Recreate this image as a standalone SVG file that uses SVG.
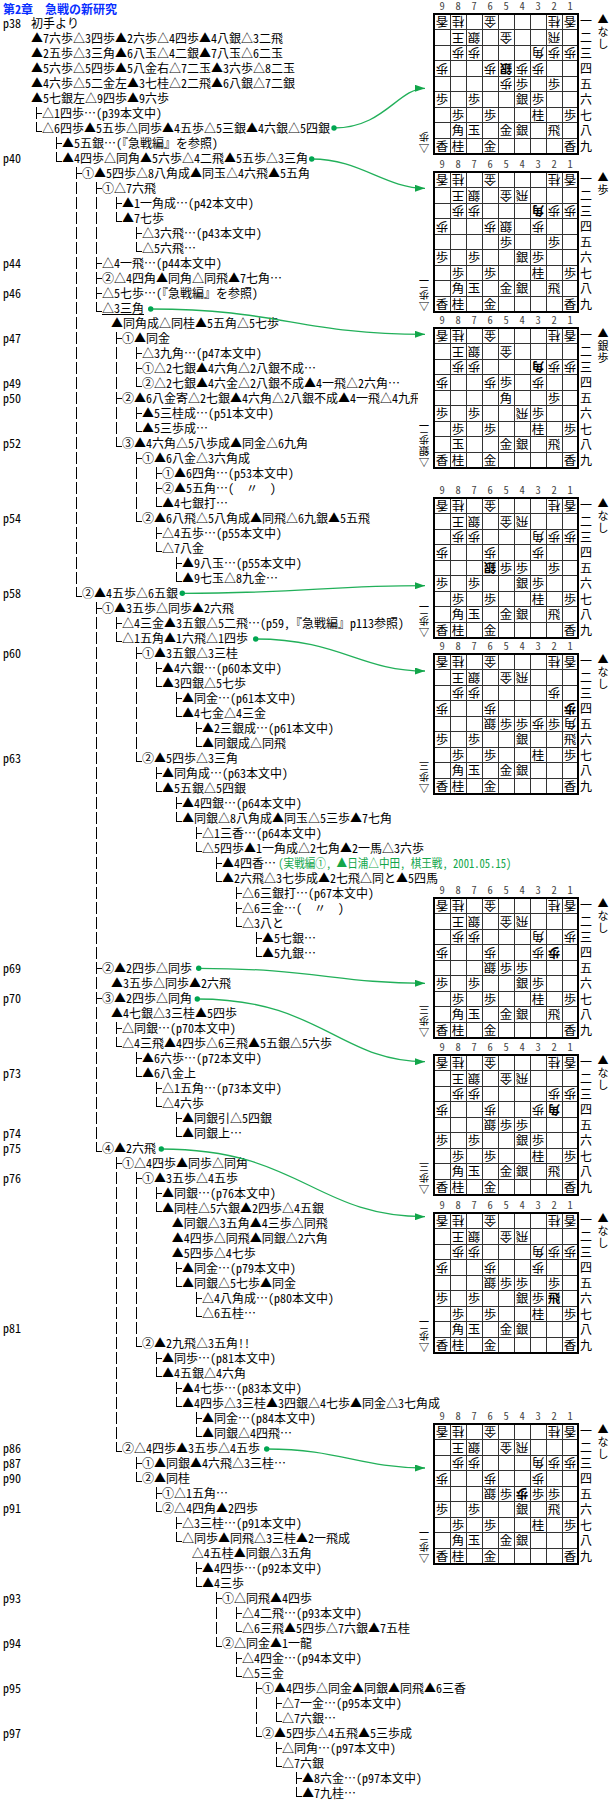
<svg xmlns="http://www.w3.org/2000/svg" width="612" height="1801" viewBox="0 0 612 1801">
<defs>
<style>
text{font-family:'Noto Sans Mono CJK JP','Noto Sans CJK JP','Noto Sans CJK SC',sans-serif;font-size:12px;fill:#000}
.ttl{fill:#0a30ff;font-weight:bold}
.grn{fill:#12a64a}
.cn{font-size:10.5px;text-anchor:middle;fill:#444}
.rk{text-anchor:middle}
.k,.g{font-size:12.5px;text-anchor:middle}
.b{font-weight:bold}
.bh{font-size:11px;text-anchor:middle}
.gh{font-size:10.5px;text-anchor:middle}
.tr{fill:none;stroke:#000;stroke-width:1;shape-rendering:crispEdges}
.dash{stroke-dasharray:12 3}
.gl{fill:none;stroke:#333;stroke-width:1;shape-rendering:crispEdges}
.fr{fill:none;stroke:#000;stroke-width:2}
.ar{fill:none;stroke:#22b05a;stroke-width:1.3;marker-end:url(#ah)}
.dot{fill:#00a651}
.ul{stroke:#000;stroke-width:1}
</style>
<marker id="ah" viewBox="0 0 10 7" refX="10" refY="3.5" markerWidth="10" markerHeight="7" markerUnits="userSpaceOnUse" orient="auto"><path d="M0,0L10,3.5L0,7z" fill="#12a64a"/></marker>
<g id="grid"><path class="gl" d="M450.5,0V140M466.5,0V140M482.5,0V140M498.5,0V140M514.5,0V140M530.5,0V140M546.5,0V140M562.5,0V140M434,15.5H578M434,31.5H578M434,46.5H578M434,62.5H578M434,77.5H578M434,93.5H578M434,108.5H578M434,124.5H578"/><rect class="fr" x="434" y="0" width="144" height="140"/></g>
</defs>
<rect width="612" height="1801" fill="#fff"/>
<text class="ttl" x="3" y="13.8">第2章　急戦の新研究</text>
<g id="pages">
<text x="3" y="28.4">p38</text><text x="3" y="163.4">p40</text><text x="3" y="268.4">p44</text><text x="3" y="298.4">p46</text><text x="3" y="343.4">p47</text><text x="3" y="388.4">p49</text><text x="3" y="403.4">p50</text><text x="3" y="448.4">p52</text><text x="3" y="523.4">p54</text><text x="3" y="598.4">p58</text><text x="3" y="658.4">p60</text><text x="3" y="763.4">p63</text><text x="3" y="973.4">p69</text><text x="3" y="1003.4">p70</text><text x="3" y="1078.4">p73</text><text x="3" y="1138.4">p74</text><text x="3" y="1153.4">p75</text><text x="3" y="1183.4">p76</text><text x="3" y="1333.4">p81</text><text x="3" y="1453.4">p86</text><text x="3" y="1468.4">p87</text><text x="3" y="1483.4">p90</text><text x="3" y="1513.4">p91</text><text x="3" y="1603.4">p93</text><text x="3" y="1648.4">p94</text><text x="3" y="1693.4">p95</text><text x="3" y="1738.4">p97</text>
</g>
<g id="moves">
<g id="l0"><text x="31" y="28.4">初手より</text></g>
<g id="l1"><text x="31" y="43.4">▲7六歩△3四歩▲2六歩△4四歩▲4八銀△3二飛</text></g>
<g id="l2"><text x="31" y="58.4">▲2五歩△3三角▲6八玉△4二銀▲7八玉△6二玉</text></g>
<g id="l3"><text x="31" y="73.4">▲5六歩△5四歩▲5八金右△7二玉▲3六歩△8二玉</text></g>
<g id="l4"><text x="31" y="88.4">▲4六歩△5二金左▲3七桂△2二飛▲6八銀△7二銀</text></g>
<g id="l5"><text x="31" y="103.4">▲5七銀左△9四歩▲9六歩</text></g>
<g id="l6"><text x="42" y="118.4">△1四歩…(p39本文中)</text></g>
<g id="l7"><text x="42" y="133.4" textLength="288" lengthAdjust="spacingAndGlyphs">△6四歩▲5五歩△同歩▲4五歩△5三銀▲4六銀△5四銀</text></g>
<g id="l8"><text x="62" y="148.4">▲5五銀…(『急戦編』を参照)</text></g>
<g id="l9"><text x="62" y="163.4" textLength="246" lengthAdjust="spacingAndGlyphs">▲4四歩△同角▲5六歩△4二飛▲5五歩△3三角</text></g>
<g id="l10"><text x="82" y="178.4">①▲5四歩△8八角成▲同玉△4六飛▲5五角</text></g>
<g id="l11"><text x="102" y="193.4">①△7六飛</text></g>
<g id="l12"><text x="122" y="208.4">▲1一角成…(p42本文中)</text></g>
<g id="l13"><text x="122" y="223.4">▲7七歩</text></g>
<g id="l14"><text x="142" y="238.4">△3六飛…(p43本文中)</text></g>
<g id="l15"><text x="142" y="253.4">△5六飛…</text></g>
<g id="l16"><text x="102" y="268.4">△4一飛…(p44本文中)</text></g>
<g id="l17"><text x="102" y="283.4">②△4四角▲同角△同飛▲7七角…</text></g>
<g id="l18"><text x="102" y="298.4">△5七歩…(『急戦編』を参照)</text></g>
<g id="l19"><text x="102" y="313.4" textLength="42" lengthAdjust="spacingAndGlyphs">△3三角</text><path class="ul" d="M102,314.5H144"/></g>
<g id="l20"><text x="111" y="328.4">▲同角成△同桂▲5五角△5七歩</text></g>
<g id="l21"><text x="122" y="343.4">①▲同金</text></g>
<g id="l22"><text x="142" y="358.4">△3九角…(p47本文中)</text></g>
<g id="l23"><text x="142" y="373.4">①△2七銀▲4六角△2八銀不成…</text></g>
<g id="l24"><text x="142" y="388.4">②△2七銀▲4六金△2八銀不成▲4一飛△2六角…</text></g>
<g id="l25"><text x="122" y="403.4">②▲6八金寄△2七銀▲4六角△2八銀不成▲4一飛△4九飛</text></g>
<g id="l26"><text x="142" y="418.4">▲5三桂成…(p51本文中)</text></g>
<g id="l27"><text x="142" y="433.4">▲5三歩成…</text></g>
<g id="l28"><text x="122" y="448.4">③▲4六角△5八歩成▲同金△6九角</text></g>
<g id="l29"><text x="142" y="463.4">①▲6八金△3六角成</text></g>
<g id="l30"><text x="162" y="478.4">①▲6四角…(p53本文中)</text></g>
<g id="l31"><text x="162" y="493.4">②▲5五角…(　〃　)</text></g>
<g id="l32"><text x="162" y="508.4">▲4七銀打…</text></g>
<g id="l33"><text x="142" y="523.4">②▲6八飛△5八角成▲同飛△6九銀▲5五飛</text></g>
<g id="l34"><text x="162" y="538.4">△4五歩…(p55本文中)</text></g>
<g id="l35"><text x="162" y="553.4">△7八金</text></g>
<g id="l36"><text x="182" y="568.4">▲9八玉…(p55本文中)</text></g>
<g id="l37"><text x="182" y="583.4">▲9七玉△8九金…</text></g>
<g id="l38"><text x="82" y="598.4" textLength="96" lengthAdjust="spacingAndGlyphs">②▲4五歩△6五銀</text></g>
<g id="l39"><text x="102" y="613.4">①▲3五歩△同歩▲2六飛</text></g>
<g id="l40"><text x="122" y="628.4">△4三金▲3五銀△5二飛…(p59,『急戦編』p113参照)</text></g>
<g id="l41"><text x="122" y="643.4" textLength="126" lengthAdjust="spacingAndGlyphs">△1五角▲1六飛△1四歩</text></g>
<g id="l42"><text x="142" y="658.4">①▲3五銀△3三桂</text></g>
<g id="l43"><text x="162" y="673.4">▲4六銀…(p60本文中)</text></g>
<g id="l44"><text x="162" y="688.4">▲3四銀△5七歩</text></g>
<g id="l45"><text x="182" y="703.4">▲同金…(p61本文中)</text></g>
<g id="l46"><text x="182" y="718.4">▲4七金△4三金</text></g>
<g id="l47"><text x="202" y="733.4">▲2三銀成…(p61本文中)</text></g>
<g id="l48"><text x="202" y="748.4">▲同銀成△同飛</text></g>
<g id="l49"><text x="142" y="763.4">②▲5四歩△3三角</text></g>
<g id="l50"><text x="162" y="778.4">▲同角成…(p63本文中)</text></g>
<g id="l51"><text x="162" y="793.4">▲5五銀△5四銀</text></g>
<g id="l52"><text x="182" y="808.4">▲4四銀…(p64本文中)</text></g>
<g id="l53"><text x="182" y="823.4">▲同銀△8八角成▲同玉△5三歩▲7七角</text></g>
<g id="l54"><text x="202" y="838.4">△1三香…(p64本文中)</text></g>
<g id="l55"><text x="202" y="853.4">△5四歩▲1一角成△2七角▲2一馬△3六歩</text></g>
<g id="l56"><text x="222" y="868.4">▲4四香…</text><text class="grn" x="278.3" y="868.4" textLength="233" lengthAdjust="spacingAndGlyphs">(実戦編①, ▲日浦△中田, 棋王戦, 2001.05.15)</text></g>
<g id="l57"><text x="222" y="883.4">▲2六飛△3七歩成▲2七飛△同と▲5四馬</text></g>
<g id="l58"><text x="242" y="898.4">△6三銀打…(p67本文中)</text></g>
<g id="l59"><text x="242" y="913.4">△6三金…(　〃　)</text></g>
<g id="l60"><text x="242" y="928.4">△3八と</text></g>
<g id="l61"><text x="262" y="943.4">▲5七銀…</text></g>
<g id="l62"><text x="262" y="958.4">▲5九銀…</text></g>
<g id="l63"><text x="102" y="973.4" textLength="90" lengthAdjust="spacingAndGlyphs">②▲2四歩△同歩</text></g>
<g id="l64"><text x="111" y="988.4">▲3五歩△同歩▲2六飛</text></g>
<g id="l65"><text x="102" y="1003.4" textLength="90" lengthAdjust="spacingAndGlyphs">③▲2四歩△同角</text></g>
<g id="l66"><text x="111" y="1018.4">▲4七銀△3三桂▲5四歩</text></g>
<g id="l67"><text x="122" y="1033.4">△同銀…(p70本文中)</text></g>
<g id="l68"><text x="122" y="1048.4">△4三飛▲4四歩△6三飛▲5五銀△5六歩</text></g>
<g id="l69"><text x="142" y="1063.4">▲6六歩…(p72本文中)</text></g>
<g id="l70"><text x="142" y="1078.4">▲6八金上</text></g>
<g id="l71"><text x="162" y="1093.4">△1五角…(p73本文中)</text></g>
<g id="l72"><text x="162" y="1108.4">△4六歩</text></g>
<g id="l73"><text x="182" y="1123.4">▲同銀引△5四銀</text></g>
<g id="l74"><text x="182" y="1138.4">▲同銀上…</text></g>
<g id="l75"><text x="102" y="1153.4" textLength="54" lengthAdjust="spacingAndGlyphs">④▲2六飛</text></g>
<g id="l76"><text x="122" y="1168.4">①△4四歩▲同歩△同角</text></g>
<g id="l77"><text x="142" y="1183.4">①▲3五歩△4五歩</text></g>
<g id="l78"><text x="162" y="1198.4">▲同銀…(p76本文中)</text></g>
<g id="l79"><text x="162" y="1213.4">▲同桂△5六銀▲2四歩△4五銀</text></g>
<g id="l80"><text x="171.7" y="1228.4">▲同銀△3五角▲4三歩△同飛</text></g>
<g id="l81"><text x="171.7" y="1243.4">▲4四歩△同飛▲同銀△2六角</text></g>
<g id="l82"><text x="171.7" y="1258.4">▲5四歩△4七歩</text></g>
<g id="l83"><text x="182" y="1273.4">▲同金…(p79本文中)</text></g>
<g id="l84"><text x="182" y="1288.4">▲同銀△5七歩▲同金</text></g>
<g id="l85"><text x="202" y="1303.4">△4八角成…(p80本文中)</text></g>
<g id="l86"><text x="202" y="1318.4">△6五桂…</text></g>
<g id="l88"><text x="142" y="1348.4">②▲2九飛△3五角!!</text></g>
<g id="l89"><text x="162" y="1363.4">▲同歩…(p81本文中)</text></g>
<g id="l90"><text x="162" y="1378.4">▲4五銀△4六角</text></g>
<g id="l91"><text x="182" y="1393.4">▲4七歩…(p83本文中)</text></g>
<g id="l92"><text x="182" y="1408.4">▲4四歩△3三桂▲3四銀△4七歩▲同金△3七角成</text></g>
<g id="l93"><text x="202" y="1423.4">▲同金…(p84本文中)</text></g>
<g id="l94"><text x="202" y="1438.4">▲同銀△4四飛…</text></g>
<g id="l95"><text x="122" y="1453.4" textLength="138" lengthAdjust="spacingAndGlyphs">②△4四歩▲3五歩△4五歩</text></g>
<g id="l96"><text x="142" y="1468.4">①▲同銀▲4六飛△3三桂…</text></g>
<g id="l97"><text x="142" y="1483.4">②▲同桂</text></g>
<g id="l98"><text x="162" y="1498.4">①△1五角…</text></g>
<g id="l99"><text x="162" y="1513.4">②△4四角▲2四歩</text></g>
<g id="l100"><text x="182" y="1528.4">△3三桂…(p91本文中)</text></g>
<g id="l101"><text x="182" y="1543.4">△同歩▲同飛△3三桂▲2一飛成</text></g>
<g id="l102"><text x="191.7" y="1558.4">△4五桂▲同銀△3五角</text></g>
<g id="l103"><text x="202" y="1573.4">▲4四歩…(p92本文中)</text></g>
<g id="l104"><text x="202" y="1588.4">▲4三歩</text></g>
<g id="l105"><text x="222" y="1603.4">①△同飛▲4四歩</text></g>
<g id="l106"><text x="242" y="1618.4">△4二飛…(p93本文中)</text></g>
<g id="l107"><text x="242" y="1633.4">△6三飛▲5四歩△7六銀▲7五桂</text></g>
<g id="l108"><text x="222" y="1648.4">②△同金▲1一龍</text></g>
<g id="l109"><text x="242" y="1663.4">△4四金…(p94本文中)</text></g>
<g id="l110"><text x="242" y="1678.4">△5三金</text></g>
<g id="l111"><text x="262" y="1693.4">①▲4四歩△同金▲同銀▲同飛▲6三香</text></g>
<g id="l112"><text x="282" y="1708.4">△7一金…(p95本文中)</text></g>
<g id="l113"><text x="282" y="1723.4">△7六銀…</text></g>
<g id="l114"><text x="262" y="1738.4">②▲5四歩△4五飛▲5三歩成</text></g>
<g id="l115"><text x="282" y="1753.4">△同角…(p97本文中)</text></g>
<g id="l116"><text x="282" y="1768.4">△7六銀</text></g>
<g id="l117"><text x="302" y="1783.4">▲8六金…(p97本文中)</text></g>
<g id="l118"><text x="302" y="1798.4">▲7九桂…</text></g>
</g>
<g id="tree">
<path class="tr dash" d="M36.5,107V131.5M56.5,137V161.5M76.5,167V596.5M96.5,182V311.5M116.5,197V221.5M136.5,227V251.5M116.5,332V446.5M136.5,347V386.5M136.5,407V431.5M136.5,452V521.5M156.5,467V506.5M156.5,527V551.5M176.5,557V581.5M96.5,602V1151.5M116.5,617V641.5M136.5,647V761.5M156.5,662V686.5M176.5,692V716.5M196.5,722V746.5M156.5,767V791.5M176.5,797V821.5M196.5,827V851.5M216.5,857V881.5M236.5,887V926.5M256.5,932V956.5M116.5,1022V1046.5M136.5,1052V1076.5M156.5,1082V1106.5M176.5,1112V1136.5M116.5,1157V1451.5M136.5,1172V1346.5M156.5,1187V1211.5M176.5,1262V1286.5M196.5,1292V1316.5M156.5,1352V1376.5M176.5,1382V1406.5M196.5,1412V1436.5M136.5,1457V1481.5M156.5,1487V1511.5M176.5,1517V1541.5M196.5,1562V1586.5M216.5,1592V1646.5M236.5,1607V1631.5M236.5,1652V1676.5M256.5,1682V1736.5M276.5,1697V1721.5M276.5,1742V1766.5M296.5,1772V1796.5"/>
<path class="tr" d="M36.5,113.5h5.5M56.5,143.5h5.5M76.5,173.5h5.5M96.5,188.5h5.5M116.5,203.5h5.5M136.5,233.5h5.5M96.5,263.5h5.5M96.5,278.5h5.5M96.5,293.5h5.5M116.5,338.5h5.5M136.5,353.5h5.5M136.5,368.5h5.5M116.5,398.5h5.5M136.5,413.5h5.5M136.5,458.5h5.5M156.5,473.5h5.5M156.5,488.5h5.5M156.5,533.5h5.5M176.5,563.5h5.5M96.5,608.5h5.5M116.5,623.5h5.5M136.5,653.5h5.5M156.5,668.5h5.5M176.5,698.5h5.5M196.5,728.5h5.5M156.5,773.5h5.5M176.5,803.5h5.5M196.5,833.5h5.5M216.5,863.5h5.5M236.5,893.5h5.5M236.5,908.5h5.5M256.5,938.5h5.5M96.5,968.5h5.5M96.5,998.5h5.5M116.5,1028.5h5.5M136.5,1058.5h5.5M156.5,1088.5h5.5M176.5,1118.5h5.5M116.5,1163.5h5.5M136.5,1178.5h5.5M156.5,1193.5h5.5M176.5,1268.5h5.5M196.5,1298.5h5.5M156.5,1358.5h5.5M176.5,1388.5h5.5M196.5,1418.5h5.5M136.5,1463.5h5.5M156.5,1493.5h5.5M176.5,1523.5h5.5M196.5,1568.5h5.5M216.5,1598.5h5.5M236.5,1613.5h5.5M236.5,1658.5h5.5M256.5,1688.5h5.5M276.5,1703.5h5.5M276.5,1748.5h5.5M296.5,1778.5h5.5
M36.5,131.5h5.5M56.5,161.5h5.5M116.5,221.5h5.5M136.5,251.5h5.5M96.5,311.5h5.5M136.5,386.5h5.5M136.5,431.5h5.5M116.5,446.5h5.5M156.5,506.5h5.5M136.5,521.5h5.5M156.5,551.5h5.5M176.5,581.5h5.5M76.5,596.5h5.5M116.5,641.5h5.5M156.5,686.5h5.5M176.5,716.5h5.5M196.5,746.5h5.5M136.5,761.5h5.5M156.5,791.5h5.5M176.5,821.5h5.5M196.5,851.5h5.5M216.5,881.5h5.5M236.5,926.5h5.5M256.5,956.5h5.5M116.5,1046.5h5.5M136.5,1076.5h5.5M156.5,1106.5h5.5M176.5,1136.5h5.5M96.5,1151.5h5.5M156.5,1211.5h5.5M176.5,1286.5h5.5M196.5,1316.5h5.5M136.5,1346.5h5.5M156.5,1376.5h5.5M176.5,1406.5h5.5M196.5,1436.5h5.5M116.5,1451.5h5.5M136.5,1481.5h5.5M156.5,1511.5h5.5M176.5,1541.5h5.5M196.5,1586.5h5.5M236.5,1631.5h5.5M216.5,1646.5h5.5M236.5,1676.5h5.5M276.5,1721.5h5.5M256.5,1736.5h5.5M276.5,1766.5h5.5M296.5,1796.5h5.5"/>
</g>
<g id="board1" transform="translate(0,14)">
<use href="#grid"/>
<text class="cn" x="442 458 474 490 506 522 538 554 570" y="-4">987654321</text>
<text class="rk" x="586 586 586 586 586 586 586 586 586" y="12.4 27.9 43.5 59 74.6 90.2 105.7 121.3 136.8">一二三四五六七八九</text>
<text class="g" transform="translate(442,7.8)rotate(180)" y="4.6">香</text><text class="g" transform="translate(458,7.8)rotate(180)" y="4.6">桂</text><text class="g" transform="translate(490,7.8)rotate(180)" y="4.6">金</text><text class="g" transform="translate(554,7.8)rotate(180)" y="4.6">桂</text><text class="g" transform="translate(570,7.8)rotate(180)" y="4.6">香</text>
<text class="g" transform="translate(458,23.3)rotate(180)" y="4.6">王</text><text class="g" transform="translate(474,23.3)rotate(180)" y="4.6">銀</text><text class="g" transform="translate(506,23.3)rotate(180)" y="4.6">金</text><text class="g" transform="translate(554,23.3)rotate(180)" y="4.6">飛</text>
<text class="g" transform="translate(458,38.9)rotate(180)" y="4.6">歩</text><text class="g" transform="translate(474,38.9)rotate(180)" y="4.6">歩</text><text class="g" transform="translate(538,38.9)rotate(180)" y="4.6">角</text><text class="g" transform="translate(554,38.9)rotate(180)" y="4.6">歩</text><text class="g" transform="translate(570,38.9)rotate(180)" y="4.6">歩</text>
<text class="g" transform="translate(442,54.4)rotate(180)" y="4.6">歩</text><text class="g" transform="translate(490,54.4)rotate(180)" y="4.6">歩</text><text class="g b" transform="translate(506,54.4)rotate(180)" y="4.6">銀</text><text class="g" transform="translate(522,54.4)rotate(180)" y="4.6">歩</text><text class="g" transform="translate(538,54.4)rotate(180)" y="4.6">歩</text>
<text class="g" transform="translate(506,70)rotate(180)" y="4.6">歩</text>
<text class="k" x="522" y="74.6">歩</text><text class="k" x="554" y="74.6">歩</text>
<text class="k" x="442" y="90.2">歩</text><text class="k" x="474" y="90.2">歩</text><text class="k" x="522" y="90.2">銀</text><text class="k" x="538" y="90.2">歩</text>
<text class="k" x="458" y="105.7">歩</text><text class="k" x="490" y="105.7">歩</text><text class="k" x="538" y="105.7">桂</text><text class="k" x="570" y="105.7">歩</text>
<text class="k" x="458" y="121.3">角</text><text class="k" x="474" y="121.3">玉</text><text class="k" x="506" y="121.3">金</text><text class="k" x="522" y="121.3">銀</text><text class="k" x="554" y="121.3">飛</text>
<text class="k" x="442" y="136.8">香</text><text class="k" x="458" y="136.8">桂</text><text class="k" x="490" y="136.8">金</text><text class="k" x="570" y="136.8">香</text>
<text class="bh" x="603 603 603" y="9.2 22.2 34.2">▲なし</text>
<text class="gh" transform="translate(424,134)rotate(180)" y="4">△</text><text class="gh" transform="translate(424,123)rotate(180)" y="4">歩</text>
</g>
<g id="board2" transform="translate(0,172)">
<use href="#grid"/>
<text class="cn" x="442 458 474 490 506 522 538 554 570" y="-4">987654321</text>
<text class="rk" x="586 586 586 586 586 586 586 586 586" y="12.4 27.9 43.5 59 74.6 90.2 105.7 121.3 136.8">一二三四五六七八九</text>
<text class="g" transform="translate(442,7.8)rotate(180)" y="4.6">香</text><text class="g" transform="translate(458,7.8)rotate(180)" y="4.6">桂</text><text class="g" transform="translate(490,7.8)rotate(180)" y="4.6">金</text><text class="g" transform="translate(554,7.8)rotate(180)" y="4.6">桂</text><text class="g" transform="translate(570,7.8)rotate(180)" y="4.6">香</text>
<text class="g" transform="translate(458,23.3)rotate(180)" y="4.6">王</text><text class="g" transform="translate(474,23.3)rotate(180)" y="4.6">銀</text><text class="g" transform="translate(506,23.3)rotate(180)" y="4.6">金</text><text class="g" transform="translate(522,23.3)rotate(180)" y="4.6">飛</text>
<text class="g" transform="translate(458,38.9)rotate(180)" y="4.6">歩</text><text class="g" transform="translate(474,38.9)rotate(180)" y="4.6">歩</text><text class="g b" transform="translate(538,38.9)rotate(180)" y="4.6">角</text><text class="g" transform="translate(554,38.9)rotate(180)" y="4.6">歩</text><text class="g" transform="translate(570,38.9)rotate(180)" y="4.6">歩</text>
<text class="g" transform="translate(442,54.4)rotate(180)" y="4.6">歩</text><text class="g" transform="translate(490,54.4)rotate(180)" y="4.6">歩</text><text class="g" transform="translate(506,54.4)rotate(180)" y="4.6">銀</text><text class="g" transform="translate(538,54.4)rotate(180)" y="4.6">歩</text>
<text class="k" x="506" y="74.6">歩</text><text class="k" x="554" y="74.6">歩</text>
<text class="k" x="442" y="90.2">歩</text><text class="k" x="474" y="90.2">歩</text><text class="k" x="522" y="90.2">銀</text><text class="k" x="538" y="90.2">歩</text>
<text class="k" x="458" y="105.7">歩</text><text class="k" x="490" y="105.7">歩</text><text class="k" x="538" y="105.7">桂</text><text class="k" x="570" y="105.7">歩</text>
<text class="k" x="458" y="121.3">角</text><text class="k" x="474" y="121.3">玉</text><text class="k" x="506" y="121.3">金</text><text class="k" x="522" y="121.3">銀</text><text class="k" x="554" y="121.3">飛</text>
<text class="k" x="442" y="136.8">香</text><text class="k" x="458" y="136.8">桂</text><text class="k" x="490" y="136.8">金</text><text class="k" x="570" y="136.8">香</text>
<text class="bh" x="603 603" y="9.2 22.2">▲歩</text>
<text class="gh" transform="translate(424,134)rotate(180)" y="4">△</text><text class="gh" transform="translate(424,123)rotate(180)" y="4">歩</text><text class="gh" transform="translate(424,112)rotate(180)" y="4">二</text>
</g>
<g id="board3" transform="translate(0,328)">
<rect x="418" y="-14" width="194" height="156" fill="#fff"/>
<use href="#grid"/>
<text class="cn" x="442 458 474 490 506 522 538 554 570" y="-4">987654321</text>
<text class="rk" x="586 586 586 586 586 586 586 586 586" y="12.4 27.9 43.5 59 74.6 90.2 105.7 121.3 136.8">一二三四五六七八九</text>
<text class="g" transform="translate(442,7.8)rotate(180)" y="4.6">香</text><text class="g" transform="translate(458,7.8)rotate(180)" y="4.6">桂</text><text class="g" transform="translate(490,7.8)rotate(180)" y="4.6">金</text><text class="g" transform="translate(554,7.8)rotate(180)" y="4.6">桂</text><text class="g" transform="translate(570,7.8)rotate(180)" y="4.6">香</text>
<text class="g" transform="translate(458,23.3)rotate(180)" y="4.6">王</text><text class="g" transform="translate(474,23.3)rotate(180)" y="4.6">銀</text><text class="g" transform="translate(506,23.3)rotate(180)" y="4.6">金</text>
<text class="g" transform="translate(458,38.9)rotate(180)" y="4.6">歩</text><text class="g" transform="translate(474,38.9)rotate(180)" y="4.6">歩</text><text class="g b" transform="translate(538,38.9)rotate(180)" y="4.6">角</text><text class="g" transform="translate(554,38.9)rotate(180)" y="4.6">歩</text><text class="g" transform="translate(570,38.9)rotate(180)" y="4.6">歩</text>
<text class="g" transform="translate(442,54.4)rotate(180)" y="4.6">歩</text><text class="g" transform="translate(490,54.4)rotate(180)" y="4.6">歩</text><text class="g" transform="translate(538,54.4)rotate(180)" y="4.6">歩</text>
<text class="g" transform="translate(522,85.6)rotate(180)" y="4.6">飛</text>
<text class="k" x="506" y="59">歩</text>
<text class="k" x="506" y="74.6">角</text><text class="k" x="554" y="74.6">歩</text>
<text class="k" x="442" y="90.2">歩</text><text class="k" x="474" y="90.2">歩</text><text class="k" x="538" y="90.2">歩</text>
<text class="k" x="458" y="105.7">歩</text><text class="k" x="490" y="105.7">歩</text><text class="k" x="538" y="105.7">桂</text><text class="k" x="570" y="105.7">歩</text>
<text class="k" x="458" y="121.3">玉</text><text class="k" x="506" y="121.3">金</text><text class="k" x="522" y="121.3">銀</text><text class="k" x="554" y="121.3">飛</text>
<text class="k" x="442" y="136.8">香</text><text class="k" x="458" y="136.8">桂</text><text class="k" x="490" y="136.8">金</text><text class="k" x="570" y="136.8">香</text>
<text class="bh" x="603 603 603" y="9.2 22.2 34.2">▲銀歩</text>
<text class="gh" transform="translate(424,134)rotate(180)" y="4">△</text><text class="gh" transform="translate(424,123)rotate(180)" y="4">銀</text><text class="gh" transform="translate(424,112)rotate(180)" y="4">歩</text><text class="gh" transform="translate(424,101)rotate(180)" y="4">二</text>
</g>
<g id="board4" transform="translate(0,498)">
<use href="#grid"/>
<text class="cn" x="442 458 474 490 506 522 538 554 570" y="-4">987654321</text>
<text class="rk" x="586 586 586 586 586 586 586 586 586" y="12.4 27.9 43.5 59 74.6 90.2 105.7 121.3 136.8">一二三四五六七八九</text>
<text class="g" transform="translate(442,7.8)rotate(180)" y="4.6">香</text><text class="g" transform="translate(458,7.8)rotate(180)" y="4.6">桂</text><text class="g" transform="translate(490,7.8)rotate(180)" y="4.6">金</text><text class="g" transform="translate(554,7.8)rotate(180)" y="4.6">桂</text><text class="g" transform="translate(570,7.8)rotate(180)" y="4.6">香</text>
<text class="g" transform="translate(458,23.3)rotate(180)" y="4.6">王</text><text class="g" transform="translate(474,23.3)rotate(180)" y="4.6">銀</text><text class="g" transform="translate(506,23.3)rotate(180)" y="4.6">金</text><text class="g" transform="translate(522,23.3)rotate(180)" y="4.6">飛</text>
<text class="g" transform="translate(458,38.9)rotate(180)" y="4.6">歩</text><text class="g" transform="translate(474,38.9)rotate(180)" y="4.6">歩</text><text class="g" transform="translate(538,38.9)rotate(180)" y="4.6">角</text><text class="g" transform="translate(554,38.9)rotate(180)" y="4.6">歩</text><text class="g" transform="translate(570,38.9)rotate(180)" y="4.6">歩</text>
<text class="g" transform="translate(442,54.4)rotate(180)" y="4.6">歩</text><text class="g" transform="translate(490,54.4)rotate(180)" y="4.6">歩</text><text class="g" transform="translate(538,54.4)rotate(180)" y="4.6">歩</text>
<text class="g b" transform="translate(490,70)rotate(180)" y="4.6">銀</text>
<text class="k" x="506" y="74.6">歩</text><text class="k" x="522" y="74.6">歩</text><text class="k" x="554" y="74.6">歩</text>
<text class="k" x="442" y="90.2">歩</text><text class="k" x="474" y="90.2">歩</text><text class="k" x="522" y="90.2">銀</text><text class="k" x="538" y="90.2">歩</text>
<text class="k" x="458" y="105.7">歩</text><text class="k" x="490" y="105.7">歩</text><text class="k" x="538" y="105.7">桂</text><text class="k" x="570" y="105.7">歩</text>
<text class="k" x="458" y="121.3">角</text><text class="k" x="474" y="121.3">玉</text><text class="k" x="506" y="121.3">金</text><text class="k" x="522" y="121.3">銀</text><text class="k" x="554" y="121.3">飛</text>
<text class="k" x="442" y="136.8">香</text><text class="k" x="458" y="136.8">桂</text><text class="k" x="490" y="136.8">金</text><text class="k" x="570" y="136.8">香</text>
<text class="bh" x="603 603 603" y="9.2 22.2 34.2">▲なし</text>
<text class="gh" transform="translate(424,134)rotate(180)" y="4">△</text><text class="gh" transform="translate(424,123)rotate(180)" y="4">歩</text><text class="gh" transform="translate(424,112)rotate(180)" y="4">二</text>
</g>
<g id="board5" transform="translate(0,654)">
<use href="#grid"/>
<text class="cn" x="442 458 474 490 506 522 538 554 570" y="-4">987654321</text>
<text class="rk" x="586 586 586 586 586 586 586 586 586" y="12.4 27.9 43.5 59 74.6 90.2 105.7 121.3 136.8">一二三四五六七八九</text>
<text class="g" transform="translate(442,7.8)rotate(180)" y="4.6">香</text><text class="g" transform="translate(458,7.8)rotate(180)" y="4.6">桂</text><text class="g" transform="translate(490,7.8)rotate(180)" y="4.6">金</text><text class="g" transform="translate(554,7.8)rotate(180)" y="4.6">桂</text><text class="g" transform="translate(570,7.8)rotate(180)" y="4.6">香</text>
<text class="g" transform="translate(458,23.3)rotate(180)" y="4.6">王</text><text class="g" transform="translate(474,23.3)rotate(180)" y="4.6">銀</text><text class="g" transform="translate(506,23.3)rotate(180)" y="4.6">金</text><text class="g" transform="translate(522,23.3)rotate(180)" y="4.6">飛</text>
<text class="g" transform="translate(458,38.9)rotate(180)" y="4.6">歩</text><text class="g" transform="translate(474,38.9)rotate(180)" y="4.6">歩</text><text class="g" transform="translate(554,38.9)rotate(180)" y="4.6">歩</text>
<text class="g" transform="translate(442,54.4)rotate(180)" y="4.6">歩</text><text class="g" transform="translate(490,54.4)rotate(180)" y="4.6">歩</text><text class="g b" transform="translate(570,54.4)rotate(180)" y="4.6">歩</text>
<text class="g" transform="translate(490,70)rotate(180)" y="4.6">銀</text><text class="g" transform="translate(538,70)rotate(180)" y="4.6">歩</text><text class="g" transform="translate(570,70)rotate(180)" y="4.6">角</text>
<text class="k" x="506" y="74.6">歩</text><text class="k" x="522" y="74.6">歩</text><text class="k" x="554" y="74.6">歩</text>
<text class="k" x="442" y="90.2">歩</text><text class="k" x="474" y="90.2">歩</text><text class="k" x="522" y="90.2">銀</text><text class="k" x="570" y="90.2">飛</text>
<text class="k" x="458" y="105.7">歩</text><text class="k" x="490" y="105.7">歩</text><text class="k" x="538" y="105.7">桂</text><text class="k" x="570" y="105.7">歩</text>
<text class="k" x="458" y="121.3">角</text><text class="k" x="474" y="121.3">玉</text><text class="k" x="506" y="121.3">金</text><text class="k" x="522" y="121.3">銀</text>
<text class="k" x="442" y="136.8">香</text><text class="k" x="458" y="136.8">桂</text><text class="k" x="490" y="136.8">金</text><text class="k" x="570" y="136.8">香</text>
<text class="bh" x="603 603 603" y="9.2 22.2 34.2">▲なし</text>
<text class="gh" transform="translate(424,134)rotate(180)" y="4">△</text><text class="gh" transform="translate(424,123)rotate(180)" y="4">歩</text><text class="gh" transform="translate(424,112)rotate(180)" y="4">三</text>
</g>
<g id="board6" transform="translate(0,898)">
<use href="#grid"/>
<text class="cn" x="442 458 474 490 506 522 538 554 570" y="-4">987654321</text>
<text class="rk" x="586 586 586 586 586 586 586 586 586" y="12.4 27.9 43.5 59 74.6 90.2 105.7 121.3 136.8">一二三四五六七八九</text>
<text class="g" transform="translate(442,7.8)rotate(180)" y="4.6">香</text><text class="g" transform="translate(458,7.8)rotate(180)" y="4.6">桂</text><text class="g" transform="translate(490,7.8)rotate(180)" y="4.6">金</text><text class="g" transform="translate(554,7.8)rotate(180)" y="4.6">桂</text><text class="g" transform="translate(570,7.8)rotate(180)" y="4.6">香</text>
<text class="g" transform="translate(458,23.3)rotate(180)" y="4.6">王</text><text class="g" transform="translate(474,23.3)rotate(180)" y="4.6">銀</text><text class="g" transform="translate(506,23.3)rotate(180)" y="4.6">金</text><text class="g" transform="translate(522,23.3)rotate(180)" y="4.6">飛</text>
<text class="g" transform="translate(458,38.9)rotate(180)" y="4.6">歩</text><text class="g" transform="translate(474,38.9)rotate(180)" y="4.6">歩</text><text class="g" transform="translate(538,38.9)rotate(180)" y="4.6">角</text><text class="g" transform="translate(570,38.9)rotate(180)" y="4.6">歩</text>
<text class="g" transform="translate(442,54.4)rotate(180)" y="4.6">歩</text><text class="g" transform="translate(490,54.4)rotate(180)" y="4.6">歩</text><text class="g" transform="translate(538,54.4)rotate(180)" y="4.6">歩</text><text class="g b" transform="translate(554,54.4)rotate(180)" y="4.6">歩</text>
<text class="g" transform="translate(490,70)rotate(180)" y="4.6">銀</text>
<text class="k" x="506" y="74.6">歩</text><text class="k" x="522" y="74.6">歩</text>
<text class="k" x="442" y="90.2">歩</text><text class="k" x="474" y="90.2">歩</text><text class="k" x="522" y="90.2">銀</text><text class="k" x="538" y="90.2">歩</text>
<text class="k" x="458" y="105.7">歩</text><text class="k" x="490" y="105.7">歩</text><text class="k" x="538" y="105.7">桂</text><text class="k" x="570" y="105.7">歩</text>
<text class="k" x="458" y="121.3">角</text><text class="k" x="474" y="121.3">玉</text><text class="k" x="506" y="121.3">金</text><text class="k" x="522" y="121.3">銀</text><text class="k" x="554" y="121.3">飛</text>
<text class="k" x="442" y="136.8">香</text><text class="k" x="458" y="136.8">桂</text><text class="k" x="490" y="136.8">金</text><text class="k" x="570" y="136.8">香</text>
<text class="bh" x="603 603 603" y="9.2 22.2 34.2">▲なし</text>
<text class="gh" transform="translate(424,134)rotate(180)" y="4">△</text><text class="gh" transform="translate(424,123)rotate(180)" y="4">歩</text><text class="gh" transform="translate(424,112)rotate(180)" y="4">三</text>
</g>
<g id="board7" transform="translate(0,1055)">
<use href="#grid"/>
<text class="cn" x="442 458 474 490 506 522 538 554 570" y="-4">987654321</text>
<text class="rk" x="586 586 586 586 586 586 586 586 586" y="12.4 27.9 43.5 59 74.6 90.2 105.7 121.3 136.8">一二三四五六七八九</text>
<text class="g" transform="translate(442,7.8)rotate(180)" y="4.6">香</text><text class="g" transform="translate(458,7.8)rotate(180)" y="4.6">桂</text><text class="g" transform="translate(490,7.8)rotate(180)" y="4.6">金</text><text class="g" transform="translate(554,7.8)rotate(180)" y="4.6">桂</text><text class="g" transform="translate(570,7.8)rotate(180)" y="4.6">香</text>
<text class="g" transform="translate(458,23.3)rotate(180)" y="4.6">王</text><text class="g" transform="translate(474,23.3)rotate(180)" y="4.6">銀</text><text class="g" transform="translate(506,23.3)rotate(180)" y="4.6">金</text><text class="g" transform="translate(522,23.3)rotate(180)" y="4.6">飛</text>
<text class="g" transform="translate(458,38.9)rotate(180)" y="4.6">歩</text><text class="g" transform="translate(474,38.9)rotate(180)" y="4.6">歩</text><text class="g" transform="translate(554,38.9)rotate(180)" y="4.6">歩</text><text class="g" transform="translate(570,38.9)rotate(180)" y="4.6">歩</text>
<text class="g" transform="translate(442,54.4)rotate(180)" y="4.6">歩</text><text class="g" transform="translate(490,54.4)rotate(180)" y="4.6">歩</text><text class="g" transform="translate(538,54.4)rotate(180)" y="4.6">歩</text><text class="g b" transform="translate(554,54.4)rotate(180)" y="4.6">角</text>
<text class="g" transform="translate(490,70)rotate(180)" y="4.6">銀</text>
<text class="k" x="506" y="74.6">歩</text><text class="k" x="522" y="74.6">歩</text>
<text class="k" x="442" y="90.2">歩</text><text class="k" x="474" y="90.2">歩</text><text class="k" x="522" y="90.2">銀</text><text class="k" x="538" y="90.2">歩</text>
<text class="k" x="458" y="105.7">歩</text><text class="k" x="490" y="105.7">歩</text><text class="k" x="538" y="105.7">桂</text><text class="k" x="570" y="105.7">歩</text>
<text class="k" x="458" y="121.3">角</text><text class="k" x="474" y="121.3">玉</text><text class="k" x="506" y="121.3">金</text><text class="k" x="522" y="121.3">銀</text><text class="k" x="554" y="121.3">飛</text>
<text class="k" x="442" y="136.8">香</text><text class="k" x="458" y="136.8">桂</text><text class="k" x="490" y="136.8">金</text><text class="k" x="570" y="136.8">香</text>
<text class="bh" x="603 603 603" y="9.2 22.2 34.2">▲なし</text>
<text class="gh" transform="translate(424,134)rotate(180)" y="4">△</text><text class="gh" transform="translate(424,123)rotate(180)" y="4">歩</text><text class="gh" transform="translate(424,112)rotate(180)" y="4">三</text>
</g>
<g id="board8" transform="translate(0,1213)">
<use href="#grid"/>
<text class="cn" x="442 458 474 490 506 522 538 554 570" y="-4">987654321</text>
<text class="rk" x="586 586 586 586 586 586 586 586 586" y="12.4 27.9 43.5 59 74.6 90.2 105.7 121.3 136.8">一二三四五六七八九</text>
<text class="g" transform="translate(442,7.8)rotate(180)" y="4.6">香</text><text class="g" transform="translate(458,7.8)rotate(180)" y="4.6">桂</text><text class="g" transform="translate(490,7.8)rotate(180)" y="4.6">金</text><text class="g" transform="translate(554,7.8)rotate(180)" y="4.6">桂</text><text class="g" transform="translate(570,7.8)rotate(180)" y="4.6">香</text>
<text class="g" transform="translate(458,23.3)rotate(180)" y="4.6">王</text><text class="g" transform="translate(474,23.3)rotate(180)" y="4.6">銀</text><text class="g" transform="translate(506,23.3)rotate(180)" y="4.6">金</text><text class="g" transform="translate(522,23.3)rotate(180)" y="4.6">飛</text>
<text class="g" transform="translate(458,38.9)rotate(180)" y="4.6">歩</text><text class="g" transform="translate(474,38.9)rotate(180)" y="4.6">歩</text><text class="g" transform="translate(538,38.9)rotate(180)" y="4.6">角</text><text class="g" transform="translate(554,38.9)rotate(180)" y="4.6">歩</text><text class="g" transform="translate(570,38.9)rotate(180)" y="4.6">歩</text>
<text class="g" transform="translate(442,54.4)rotate(180)" y="4.6">歩</text><text class="g" transform="translate(490,54.4)rotate(180)" y="4.6">歩</text><text class="g" transform="translate(538,54.4)rotate(180)" y="4.6">歩</text>
<text class="g" transform="translate(490,70)rotate(180)" y="4.6">銀</text>
<text class="k" x="506" y="74.6">歩</text><text class="k" x="522" y="74.6">歩</text><text class="k" x="554" y="74.6">歩</text>
<text class="k" x="442" y="90.2">歩</text><text class="k" x="474" y="90.2">歩</text><text class="k" x="522" y="90.2">銀</text><text class="k" x="538" y="90.2">歩</text><text class="k b" x="554" y="90.2">飛</text>
<text class="k" x="458" y="105.7">歩</text><text class="k" x="490" y="105.7">歩</text><text class="k" x="538" y="105.7">桂</text><text class="k" x="570" y="105.7">歩</text>
<text class="k" x="458" y="121.3">角</text><text class="k" x="474" y="121.3">玉</text><text class="k" x="506" y="121.3">金</text><text class="k" x="522" y="121.3">銀</text>
<text class="k" x="442" y="136.8">香</text><text class="k" x="458" y="136.8">桂</text><text class="k" x="490" y="136.8">金</text><text class="k" x="570" y="136.8">香</text>
<text class="bh" x="603 603 603" y="9.2 22.2 34.2">▲なし</text>
<text class="gh" transform="translate(424,134)rotate(180)" y="4">△</text><text class="gh" transform="translate(424,123)rotate(180)" y="4">歩</text><text class="gh" transform="translate(424,112)rotate(180)" y="4">二</text>
</g>
<g id="board9" transform="translate(0,1424)">
<use href="#grid"/>
<text class="cn" x="442 458 474 490 506 522 538 554 570" y="-4">987654321</text>
<text class="rk" x="586 586 586 586 586 586 586 586 586" y="12.4 27.9 43.5 59 74.6 90.2 105.7 121.3 136.8">一二三四五六七八九</text>
<text class="g" transform="translate(442,7.8)rotate(180)" y="4.6">香</text><text class="g" transform="translate(458,7.8)rotate(180)" y="4.6">桂</text><text class="g" transform="translate(490,7.8)rotate(180)" y="4.6">金</text><text class="g" transform="translate(554,7.8)rotate(180)" y="4.6">桂</text><text class="g" transform="translate(570,7.8)rotate(180)" y="4.6">香</text>
<text class="g" transform="translate(458,23.3)rotate(180)" y="4.6">王</text><text class="g" transform="translate(474,23.3)rotate(180)" y="4.6">銀</text><text class="g" transform="translate(506,23.3)rotate(180)" y="4.6">金</text><text class="g" transform="translate(522,23.3)rotate(180)" y="4.6">飛</text>
<text class="g" transform="translate(458,38.9)rotate(180)" y="4.6">歩</text><text class="g" transform="translate(474,38.9)rotate(180)" y="4.6">歩</text><text class="g" transform="translate(538,38.9)rotate(180)" y="4.6">角</text><text class="g" transform="translate(554,38.9)rotate(180)" y="4.6">歩</text><text class="g" transform="translate(570,38.9)rotate(180)" y="4.6">歩</text>
<text class="g" transform="translate(442,54.4)rotate(180)" y="4.6">歩</text><text class="g" transform="translate(490,54.4)rotate(180)" y="4.6">歩</text><text class="g" transform="translate(538,54.4)rotate(180)" y="4.6">歩</text>
<text class="g" transform="translate(490,70)rotate(180)" y="4.6">銀</text><text class="g b" transform="translate(522,70)rotate(180)" y="4.6">歩</text>
<text class="k" x="506" y="74.6">歩</text><text class="k" x="538" y="74.6">歩</text><text class="k" x="554" y="74.6">歩</text>
<text class="k" x="442" y="90.2">歩</text><text class="k" x="474" y="90.2">歩</text><text class="k" x="522" y="90.2">銀</text><text class="k" x="554" y="90.2">飛</text>
<text class="k" x="458" y="105.7">歩</text><text class="k" x="490" y="105.7">歩</text><text class="k" x="538" y="105.7">桂</text><text class="k" x="570" y="105.7">歩</text>
<text class="k" x="458" y="121.3">角</text><text class="k" x="474" y="121.3">玉</text><text class="k" x="506" y="121.3">金</text><text class="k" x="522" y="121.3">銀</text>
<text class="k" x="442" y="136.8">香</text><text class="k" x="458" y="136.8">桂</text><text class="k" x="490" y="136.8">金</text><text class="k" x="570" y="136.8">香</text>
<text class="bh" x="603 603 603" y="9.2 22.2 34.2">▲なし</text>
<text class="gh" transform="translate(424,134)rotate(180)" y="4">△</text><text class="gh" transform="translate(424,123)rotate(180)" y="4">歩</text><text class="gh" transform="translate(424,112)rotate(180)" y="4">二</text>
</g>
<g id="connectors">
<path class="ar" d="M334,128C384,128 398,88.3 425,88.3"/>
<path class="ar" d="M311.7,159C360,159 385,188.3 425,188.3"/>
<path class="ar" d="M150.7,309C280,309 300,334.3 425,334.3"/>
<path class="ar" d="M182.3,593.3C300,593.3 330,585.7 425,585.7"/>
<path class="ar" d="M255.7,639C340,639 360,671 425,671"/>
<path class="ar" d="M198.7,968.3C310,968.3 340,983.3 425,983.3"/>
<path class="ar" d="M197.3,999C320,999 340,1061.7 425,1061.7"/>
<path class="ar" d="M161.3,1149C300,1149 315,1216.7 425,1216.7"/>
<path class="ar" d="M266.7,1449C340,1449 360,1468 425,1468"/>
<circle class="dot" cx="334" cy="128" r="2.7"/>
<circle class="dot" cx="311.7" cy="159" r="2.7"/>
<circle class="dot" cx="150.7" cy="309" r="2.7"/>
<circle class="dot" cx="182.3" cy="593.3" r="2.7"/>
<circle class="dot" cx="255.7" cy="639" r="2.7"/>
<circle class="dot" cx="198.7" cy="968.3" r="2.7"/>
<circle class="dot" cx="197.3" cy="999" r="2.7"/>
<circle class="dot" cx="161.3" cy="1149" r="2.7"/>
<circle class="dot" cx="266.7" cy="1449" r="2.7"/>
</g>
</svg>
